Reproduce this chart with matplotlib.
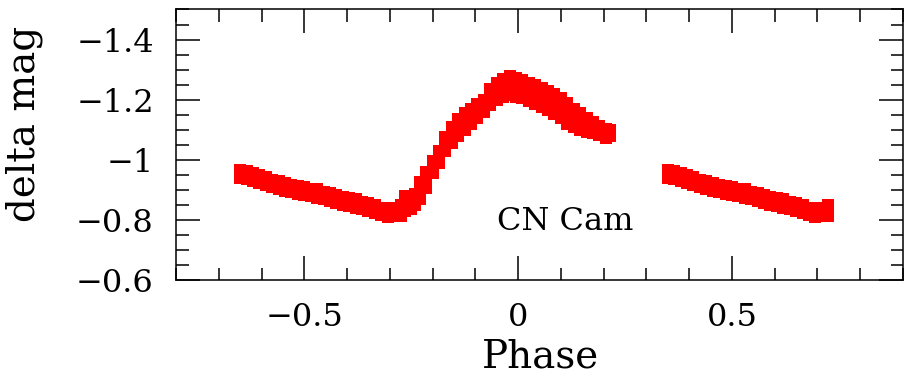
import numpy as np
import matplotlib
matplotlib.use("Agg")
from matplotlib import pyplot as plt
from matplotlib.ticker import MultipleLocator, FuncFormatter

# CN Cam light curve (phase, delta mag)
obs_phase = [
    -0.650, -0.650, -0.635, -0.635, -0.620, -0.620, -0.605, -0.605,
    -0.590, -0.590, -0.575, -0.575, -0.560, -0.560, -0.545, -0.545,
    -0.530, -0.530, -0.515, -0.515, -0.500, -0.500, -0.485, -0.485,
    -0.470, -0.470, -0.455, -0.455, -0.440, -0.440, -0.425, -0.425,
    -0.410, -0.410, -0.395, -0.395, -0.380, -0.380, -0.365, -0.365,
    -0.350, -0.350, -0.335, -0.335, -0.320, -0.320, -0.305, -0.305,
    -0.290, -0.290, -0.275, -0.275, -0.265, -0.265, -0.250, -0.250,
    -0.240, -0.240,
    -0.230, -0.230, -0.230, -0.215, -0.215, -0.215, -0.200, -0.200, -0.200,
    -0.185, -0.185, -0.185, -0.170, -0.170, -0.170, -0.155, -0.155, -0.155,
    -0.140, -0.140, -0.140, -0.125, -0.125, -0.125, -0.110, -0.110, -0.110,
    -0.095, -0.095, -0.095, -0.080, -0.080, -0.080, -0.065, -0.065, -0.065,
    -0.050, -0.050, -0.050, -0.035, -0.035, -0.035, -0.020, -0.020, -0.020,
    -0.005, -0.005, -0.005, 0.010, 0.010, 0.010, 0.025, 0.025, 0.025,
    0.040, 0.040, 0.040, 0.055, 0.055, 0.055, 0.070, 0.070, 0.070,
    0.085, 0.085, 0.085, 0.100, 0.100, 0.100, 0.115, 0.115, 0.115,
    0.130, 0.130, 0.130, 0.145, 0.145, 0.145, 0.160, 0.160, 0.160,
    0.175, 0.175, 0.190, 0.190, 0.205, 0.205, 0.215, 0.215,
]
obs_mag = [
    -0.965, -0.940, -0.962, -0.936, -0.955, -0.930, -0.948, -0.924,
    -0.942, -0.916, -0.934, -0.910, -0.928, -0.902, -0.922, -0.896,
    -0.916, -0.892, -0.914, -0.886, -0.908, -0.882, -0.903, -0.879,
    -0.902, -0.874, -0.893, -0.870, -0.888, -0.862, -0.884, -0.857,
    -0.876, -0.851, -0.872, -0.846, -0.870, -0.840, -0.861, -0.836,
    -0.856, -0.831, -0.850, -0.822, -0.840, -0.815, -0.838, -0.810,
    -0.840, -0.814, -0.850, -0.814, -0.880, -0.830, -0.870, -0.836,
    -0.885, -0.850,
    -0.925, -0.898, -0.870, -0.960, -0.932, -0.905, -0.995, -0.975, -0.955,
    -1.030, -1.010, -0.990, -1.075, -1.052, -1.030, -1.110, -1.082, -1.055,
    -1.136, -1.107, -1.078, -1.155, -1.128, -1.100, -1.170, -1.145, -1.120,
    -1.185, -1.162, -1.140, -1.200, -1.180, -1.160, -1.235, -1.208, -1.182,
    -1.255, -1.226, -1.198, -1.268, -1.238, -1.208, -1.278, -1.246, -1.214,
    -1.272, -1.242, -1.210, -1.266, -1.236, -1.204, -1.257, -1.228, -1.197,
    -1.250, -1.218, -1.186, -1.240, -1.208, -1.176, -1.230, -1.198, -1.166,
    -1.218, -1.186, -1.152, -1.204, -1.172, -1.138, -1.190, -1.155, -1.120,
    -1.170, -1.140, -1.108, -1.155, -1.128, -1.100, -1.138, -1.115, -1.092,
    -1.126, -1.090, -1.114, -1.082, -1.104, -1.074, -1.098, -1.078,
]
label = "CN Cam"
xticks = [-0.5, 0, 0.5]
yticks = [-1.4, -1.2, -1, -0.8, -0.6]

phase = np.array(obs_phase)
mag = np.array(obs_mag)
# the part before phase -0.27 is repeated one cycle later
rep = phase < -0.27
phase_all = np.concatenate([phase, phase[rep] + 1])
mag_all = np.concatenate([mag, mag[rep]])

plt.rcParams['font.family'] = ['DejaVu Serif']

fig = plt.figure(figsize=(9.07, 3.8), dpi=100)
ax = fig.add_axes([176 / 907, 1 - 280 / 380, 727 / 907, 270.5 / 380])

ax.plot(phase_all, mag_all, 's', color='#ff0000', markersize=8.2,
        markeredgewidth=0)

ax.set_xlim(-0.8, 0.9)
ax.set_ylim(-0.6, -1.5)

ax.set_xticks(xticks)
ax.set_yticks(yticks)
ax.xaxis.set_minor_locator(MultipleLocator(0.1))
ax.yaxis.set_minor_locator(MultipleLocator(0.05))
fmt = FuncFormatter(lambda v, p: ('%g' % v).replace('-', '\u2212'))
ax.xaxis.set_major_formatter(fmt)
ax.yaxis.set_major_formatter(fmt)

ax.tick_params(which='both', direction='in', top=True, right=True,
               width=1.1, color='black')
ax.tick_params(which='major', length=17, labelsize=23, pad=16)
ax.tick_params(which='minor', length=9)
for s in ax.spines.values():
    s.set_linewidth(1.1)

ax.text(0.11, -0.796, label, fontsize=23, ha='center', va='center')

fig.text(24 / 907, 1 - 124 / 380, 'delta mag', rotation=90, fontsize=28,
         ha='center', va='center')
fig.text(540 / 907, 1 - 357 / 380, 'Phase', fontsize=28,
         ha='center', va='center')

fig.savefig('out.png', dpi=100)
